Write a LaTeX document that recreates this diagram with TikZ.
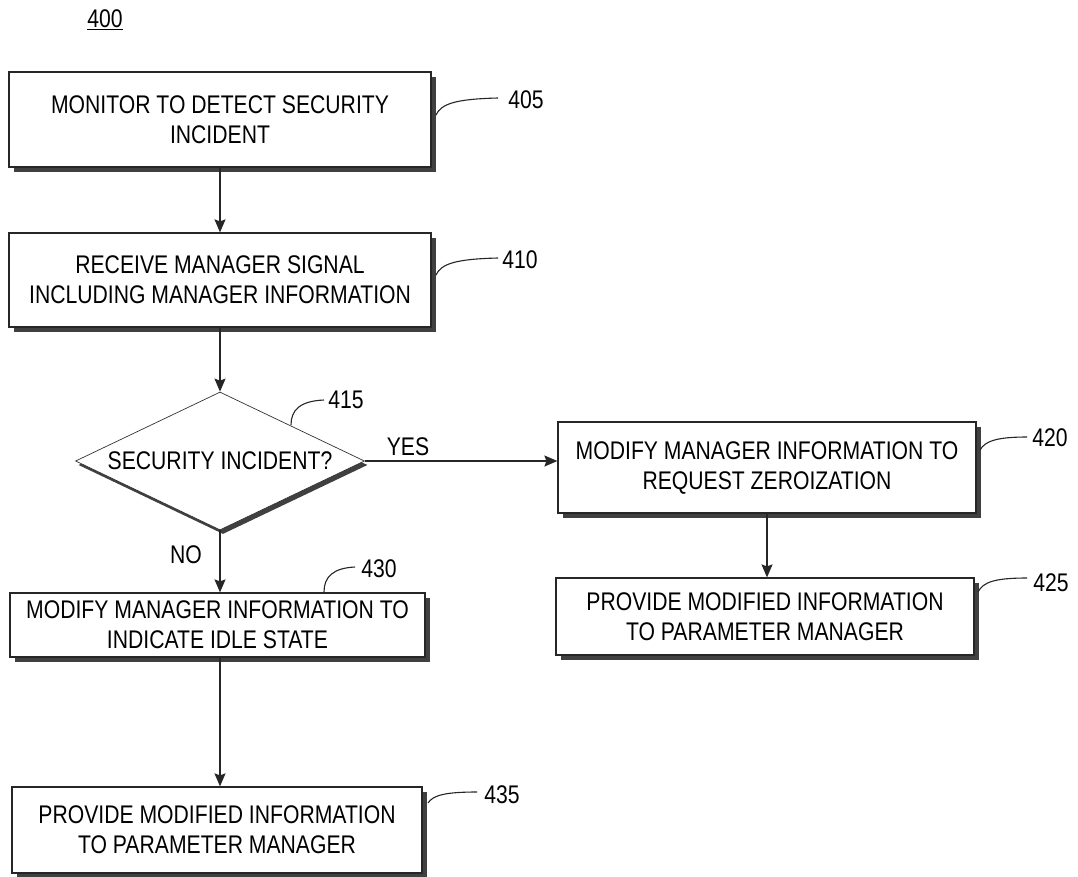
\documentclass[tikz,border=0pt]{standalone}
\usepackage{fontspec}
\setmainfont{Liberation Sans}[FakeStretch=0.83]
\usetikzlibrary{shapes.geometric,shadows,arrows.meta}
\newcommand\bxfont{\fontsize{25.5}{30}\selectfont}
\begin{document}
\begin{tikzpicture}[x=1pt,y=-1pt,
  box/.style={rectangle, draw=black!85, line width=1.2pt, fill=white, inner sep=0pt,
    align=center, font=\bxfont,
    drop shadow={shadow xshift=4.5pt, shadow yshift=-4.5pt, fill=black!75, opacity=1}},
  decision/.style={diamond, draw=black!80, line width=0.7pt, fill=white, inner sep=0pt,
    aspect=2.09, align=center, font=\bxfont,
    drop shadow={shadow xshift=3pt, shadow yshift=-4pt, fill=black!75, opacity=1}},
  arr/.style={draw=black!85, line width=1.6pt, -{Stealth[length=13pt,width=11pt,inset=2pt]}},
  lead/.style={draw=black!85, line width=1.1pt},
  lbl/.style={font=\bxfont, inner sep=0pt}
]
\useasboundingbox (0,0) rectangle (1078,876);
\fill[white] (0,0) rectangle (1078,876);

\node[lbl] (fig) at (105,20) {\underline{400}};

\node[box, minimum width=422pt, minimum height=95pt] (b405) at (220,119.5)
  {MONITOR TO DETECT SECURITY\\INCIDENT};
\node[box, minimum width=422pt, minimum height=94pt] (b410) at (220,280)
  {RECEIVE MANAGER SIGNAL\\INCLUDING MANAGER INFORMATION};
\node[decision, minimum width=289pt, minimum height=138pt] (d415) at (220,461)
  {SECURITY INCIDENT?};
\node[box, minimum width=418pt, minimum height=91pt] (b420) at (767,467.5)
  {MODIFY MANAGER INFORMATION TO\\REQUEST ZEROIZATION};
\node[box, minimum width=418pt, minimum height=77pt] (b425) at (765,616.5)
  {PROVIDE MODIFIED INFORMATION\\TO PARAMETER MANAGER};
\node[box, minimum width=415pt, minimum height=64pt] (b430) at (217.5,625)
  {MODIFY MANAGER INFORMATION TO\\INDICATE IDLE STATE};
\node[box, minimum width=410pt, minimum height=86pt] (b435) at (217,830)
  {PROVIDE MODIFIED INFORMATION\\TO PARAMETER MANAGER};

% connectors
\draw[arr] (b405.south) -- (b410.north);
\draw[arr] (b410.south) -- (d415.north);
\draw[arr] (d415.east) -- (d415.east -| b420.west);
\draw[arr] (d415.south) -- (d415.south |- b430.north);
\draw[arr] (b420.south) -- (b420.south |- b425.north);
\draw[arr] (b430.south -| d415.south) -- (b435.north -| d415.south);

\node[lbl] (yes) at (408,447) {YES};
\node[lbl] (no) at (186,555) {NO};

% reference numerals
\node[lbl] (l405) at (526,100) {405};
\node[lbl] (l410) at (520,260) {410};
\node[lbl] (l415) at (346,400) {415};
\node[lbl] (l420) at (1050,438) {420};
\node[lbl] (l425) at (1051,583) {425};
\node[lbl] (l430) at (379,569) {430};
\node[lbl] (l435) at (502,795) {435};

\coordinate (s405) at (436,115); \coordinate (e405) at (498,98);
\coordinate (s410) at (436,275); \coordinate (e410) at (498,258);
\coordinate (s415) at (291,425); \coordinate (e415) at (324,400);
\coordinate (s420) at (980,450); \coordinate (e420) at (1027,437);
\coordinate (s425) at (978,592); \coordinate (e425) at (1027,578);
\coordinate (s430) at (324,592); \coordinate (e430) at (355,567);
\coordinate (s435) at (428,803); \coordinate (e435) at (477,792);

\draw[lead] (s405) .. controls (441,104) and (455,99) .. (e405);
\draw[lead] (s410) .. controls (441,264) and (455,259) .. (e410);
\draw[lead] (s415) .. controls (291,410) and (300,401) .. (e415);
\draw[lead] (s420) .. controls (985,441) and (997,437) .. (e420);
\draw[lead] (s425) .. controls (983,582) and (995,578) .. (e425);
\draw[lead] (s430) .. controls (324,577) and (333,568) .. (e430);
\draw[lead] (s435) .. controls (433,795) and (446,792) .. (e435);
\end{tikzpicture}
\end{document}
